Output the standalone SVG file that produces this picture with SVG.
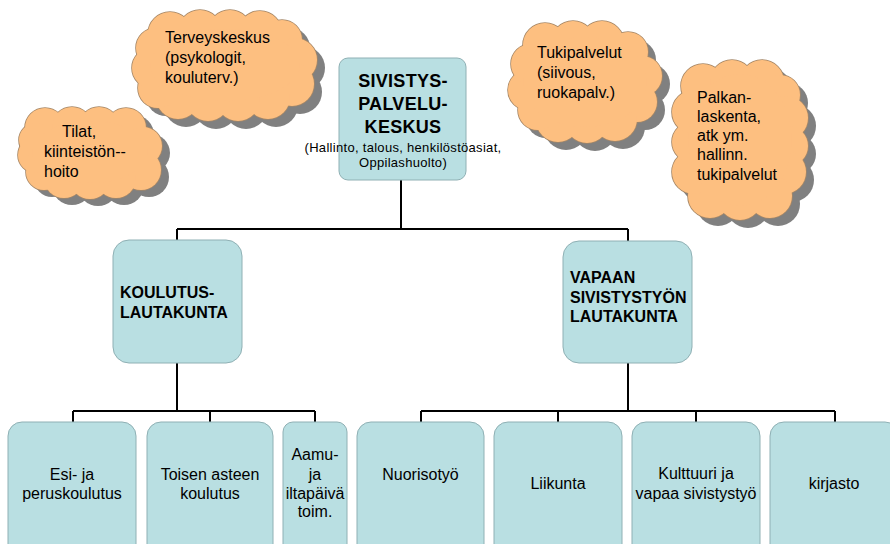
<svg xmlns="http://www.w3.org/2000/svg" xmlns:xlink="http://www.w3.org/1999/xlink" width="890" height="544" viewBox="0 0 890 544">
<style>
text{font-family:"Liberation Sans",Arial,sans-serif;fill:#000}
.box{fill:#B9DFE2;stroke:#8FB0B4;stroke-width:1}
.conn{fill:none;stroke:#000;stroke-width:2}
.sh{fill:#808080}
.cs{fill:#FDBF80;stroke:#A58767;stroke-width:1.6}
.cf{fill:#FDBF80}
.bt{font-weight:bold;font-size:16px}
.tt{font-weight:bold;font-size:18px;letter-spacing:0.3px}
.lt{font-size:16px}
.mid{text-anchor:middle}
.sm{font-size:13px;letter-spacing:0.3px}
</style>
<defs>
<g id="c1">
<circle cx="170" cy="34" r="22"/><circle cx="200" cy="32" r="22"/><circle cx="230" cy="32" r="22"/><circle cx="260" cy="33" r="22"/><circle cx="282" cy="40" r="20"/>
<circle cx="295" cy="60" r="22"/><circle cx="292" cy="84" r="22"/>
<circle cx="268" cy="97" r="22"/><circle cx="238" cy="99" r="22"/><circle cx="208" cy="99" r="22"/><circle cx="178" cy="97" r="22"/><circle cx="158" cy="88" r="20"/>
<circle cx="152" cy="68" r="20"/><circle cx="156" cy="48" r="20"/>
<ellipse cx="225" cy="65" rx="75" ry="36"/>
</g>
<g id="c2">
<circle cx="45" cy="128" r="20"/><circle cx="72" cy="127" r="20"/><circle cx="99" cy="127" r="20"/><circle cx="126" cy="128" r="20"/>
<circle cx="143" cy="146" r="19"/><circle cx="141" cy="170" r="20"/>
<circle cx="116" cy="178" r="20"/><circle cx="90" cy="179" r="20"/><circle cx="64" cy="178" r="20"/><circle cx="44" cy="172" r="18"/>
<circle cx="36" cy="155" r="18"/><circle cx="36" cy="140" r="17"/>
<ellipse cx="90" cy="152" rx="58" ry="31"/>
</g>
<g id="c3">
<circle cx="545" cy="45" r="22"/><circle cx="573" cy="43" r="22"/><circle cx="602" cy="43" r="22"/><circle cx="628" cy="52" r="20"/>
<circle cx="642" cy="76" r="20"/><circle cx="637" cy="102" r="20"/>
<circle cx="615" cy="119" r="22"/><circle cx="587" cy="121" r="22"/><circle cx="558" cy="120" r="22"/><circle cx="538" cy="110" r="20"/>
<circle cx="528" cy="90" r="20"/><circle cx="531" cy="64" r="20"/>
<ellipse cx="585" cy="82" rx="62" ry="45"/>
</g>
<g id="c4">
<circle cx="703" cy="86" r="22"/><circle cx="732" cy="82" r="22"/><circle cx="762" cy="82" r="22"/><circle cx="780" cy="95" r="20"/>
<circle cx="786" cy="118" r="22"/><circle cx="788" cy="146" r="20"/><circle cx="784" cy="172" r="22"/>
<circle cx="770" cy="196" r="22"/><circle cx="740" cy="198" r="22"/><circle cx="710" cy="196" r="22"/>
<circle cx="694" cy="172" r="22"/><circle cx="692" cy="142" r="20"/><circle cx="694" cy="112" r="22"/>
<ellipse cx="740" cy="140" rx="52" ry="66"/>
</g>
</defs>

<g id="connectors">
<path class="conn" d="M401 180V229M177 229H628M177 229V240M628 229V241"/>
<path class="conn" d="M177 363V411M73 411H315M73 411V422M210 411V422M315 411V422"/>
<path class="conn" d="M628 363V411M421 411H835M421 411V422M558 411V422M696 411V422M835 411V422"/>
</g>

<g id="cloud-terveyskeskus">
<use xlink:href="#c1" class="sh" transform="translate(8,8)"/>
<use xlink:href="#c1" class="cs"/>
<use xlink:href="#c1" class="cf"/>
<text class="lt" x="165" y="43">Terveyskeskus</text>
<text class="lt" x="165" y="63">(psykologit,</text>
<text class="lt" x="165" y="83">kouluterv.)</text>
</g>

<g id="cloud-tilat">
<use xlink:href="#c2" class="sh" transform="translate(8,7)"/>
<use xlink:href="#c2" class="cs"/>
<use xlink:href="#c2" class="cf"/>
<text class="lt" x="62" y="137">Tilat,</text>
<text class="lt" x="44" y="157">kiinteistön--</text>
<text class="lt" x="44" y="177">hoito</text>
</g>

<g id="cloud-tukipalvelut">
<use xlink:href="#c3" class="sh" transform="translate(8,8)"/>
<use xlink:href="#c3" class="cs"/>
<use xlink:href="#c3" class="cf"/>
<text class="lt" x="537" y="58">Tukipalvelut</text>
<text class="lt" x="537" y="78">(siivous,</text>
<text class="lt" x="537" y="98">ruokapalv.)</text>
</g>

<g id="cloud-palkanlaskenta">
<use xlink:href="#c4" class="sh" transform="translate(8,8)"/>
<use xlink:href="#c4" class="cs"/>
<use xlink:href="#c4" class="cf"/>
<text class="lt" x="697" y="103">Palkan-</text>
<text class="lt" x="697" y="122">laskenta,</text>
<text class="lt" x="697" y="141">atk ym.</text>
<text class="lt" x="697" y="160">hallinn.</text>
<text class="lt" x="697" y="180">tukipalvelut</text>
</g>

<g id="node-sivistyspalvelukeskus">
<rect class="box" x="339" y="58" width="127" height="122" rx="9"/>
<text class="tt mid" x="403" y="87">SIVISTYS-</text>
<text class="tt mid" x="403" y="110">PALVELU-</text>
<text class="tt mid" x="403" y="133">KESKUS</text>
<text class="sm mid" x="403" y="152">(Hallinto, talous, henkilöstöasiat,</text>
<text class="sm mid" x="403" y="167">Oppilashuolto)</text>
</g>

<g id="node-koulutuslautakunta">
<rect class="box" x="113" y="240" width="129" height="123" rx="16"/>
<text class="bt" x="120" y="298">KOULUTUS-</text>
<text class="bt" x="120" y="318">LAUTAKUNTA</text>
</g>

<g id="node-vapaan-sivistystyon-lautakunta">
<rect class="box" x="563" y="241" width="129" height="122" rx="16"/>
<text class="bt" x="570" y="283">VAPAAN</text>
<text class="bt" x="570" y="303">SIVISTYSTYÖN</text>
<text class="bt" x="570" y="322">LAUTAKUNTA</text>
</g>

<g id="node-esi-ja-peruskoulutus">
<rect class="box" x="8" y="422" width="128" height="140" rx="14"/>
<text class="lt mid" x="72" y="480">Esi- ja</text>
<text class="lt mid" x="72" y="499">peruskoulutus</text>
</g>

<g id="node-toisen-asteen-koulutus">
<rect class="box" x="147" y="422" width="126" height="140" rx="14"/>
<text class="lt mid" x="210" y="480">Toisen asteen</text>
<text class="lt mid" x="210" y="499">koulutus</text>
</g>

<g id="node-aamu-ja-iltapaiva">
<rect class="box" x="283" y="422" width="64" height="140" rx="10"/>
<text class="lt mid" x="315" y="460">Aamu-</text>
<text class="lt mid" x="315" y="480">ja</text>
<text class="lt mid" x="315" y="499">iltapäivä</text>
<text class="lt mid" x="315" y="517">toim.</text>
</g>

<g id="node-nuorisotyo">
<rect class="box" x="357" y="422" width="127" height="140" rx="14"/>
<text class="lt mid" x="420.5" y="480">Nuorisotyö</text>
</g>

<g id="node-liikunta">
<rect class="box" x="494" y="422" width="128" height="140" rx="14"/>
<text class="lt mid" x="558" y="489">Liikunta</text>
</g>

<g id="node-kulttuuri">
<rect class="box" x="632" y="422" width="128" height="140" rx="14"/>
<text class="lt mid" x="696" y="479">Kulttuuri ja</text>
<text class="lt mid" x="696" y="499">vapaa sivistystyö</text>
</g>

<g id="node-kirjasto">
<rect class="box" x="770" y="422" width="129" height="140" rx="14"/>
<text class="lt mid" x="834" y="489">kirjasto</text>
</g>
</svg>
